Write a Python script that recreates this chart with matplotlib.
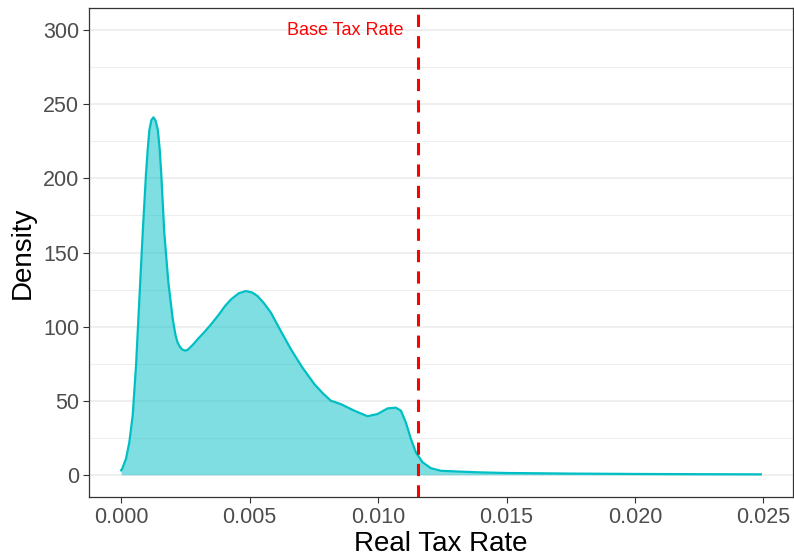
import numpy as np
import matplotlib
matplotlib.use("Agg")
import matplotlib.pyplot as plt

plt.rcParams['font.family'] = ['Liberation Sans', 'DejaVu Sans']

#### Data ####
tax_rate = [0.00000, 0.00004, 0.00019, 0.00032, 0.00045, 0.00058, 0.00071, 0.00084,
            0.00097, 0.00104, 0.00110, 0.00118, 0.00126, 0.00134, 0.00143, 0.00150,
            0.00156, 0.00168, 0.00184, 0.00201, 0.00212, 0.00220, 0.00230,
            0.00240, 0.00250, 0.00259, 0.00278, 0.00298, 0.00325,
            0.00350, 0.00380, 0.00405, 0.00428, 0.00458, 0.00486, 0.00510,
            0.00531, 0.00555, 0.00583, 0.00620, 0.00661, 0.00705, 0.00752,
            0.00785, 0.00816, 0.00855, 0.00907, 0.00959, 0.00998, 0.01037,
            0.01069, 0.01089, 0.01108, 0.01128, 0.01147, 0.01173, 0.01205,
            0.01244, 0.01309, 0.01400, 0.01500, 0.01750, 0.02000, 0.02250,
            0.02490]
density = [3.0, 4.0, 10.8, 22.0, 39.9, 73.5, 118.4, 163.2,
           203.6, 220.5, 232.7, 239.5, 241.2, 239.0, 232.7, 220.0,
           203.6, 163.2, 129.6, 104.9, 94.0, 89.2, 86.0,
           84.3, 83.8, 84.3, 87.5, 91.5, 96.5,
           101.5, 108.0, 114.0, 118.4, 122.5, 124.0, 123.0,
           120.6, 116.0, 109.4, 97.5, 84.7, 72.5, 61.2,
           55.0, 50.0, 47.7, 43.3, 39.5, 41.0, 44.8,
           45.3, 43.3, 35.4, 24.2, 15.2, 8.5, 4.5,
           2.7, 2.2, 1.6, 1.2, 0.8, 0.55, 0.4,
           0.3]
base_rate = 0.01155
label_text = "Base Tax Rate"

#### Plot ####
fig = plt.figure(figsize=(7.94, 5.56), dpi=100)
ax = fig.add_axes([0.1121, 0.1061, 0.8866, 0.8795])

teal = '#00BFC4'
ax.fill_between(tax_rate, density, 0, color=teal, alpha=0.5, lw=0)
ax.plot(tax_rate, density, color=teal, lw=1.6, solid_joinstyle='round')
ax.axvline(base_rate, color='#FF0000', ls=(0, (4, 3)), lw=2.2)
ax.text(0.00872, 300, label_text, color='#FF0000', fontsize=13, ha='center', va='center')

ax.set_xlim(-0.00125, 0.02615)
ax.set_ylim(-15, 315)
ax.set_xticks([0, 0.005, 0.01, 0.015, 0.02, 0.025])
ax.set_xticklabels(['0.000', '0.005', '0.010', '0.015', '0.020', '0.025'])
ax.set_yticks(np.arange(0, 301, 50))
ax.set_yticks(np.arange(25, 300, 50), minor=True)

ax.grid(axis='y', which='major', color='#EBEBEB', lw=1.1)
ax.grid(axis='y', which='minor', color='#EBEBEB', lw=0.6)
ax.set_axisbelow(True)
ax.tick_params(which='major', labelsize=15.5, labelcolor='#4D4D4D', color='#333333',
               length=4, pad=3)
ax.tick_params(which='minor', length=0)
for s in ax.spines.values():
    s.set_color('#333333')
    s.set_linewidth(0.9)

ax.set_xlabel('Real Tax Rate', fontsize=20, labelpad=2)
ax.set_ylabel('Density', fontsize=20, labelpad=5)

fig.savefig('out.png', dpi=100)
